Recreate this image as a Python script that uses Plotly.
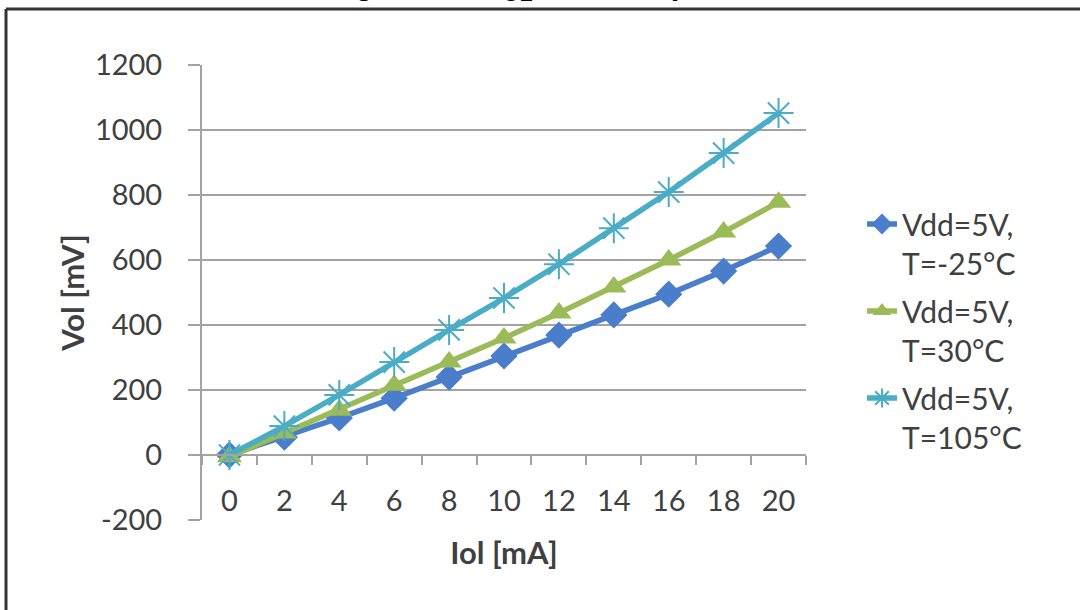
import plotly.graph_objects as go

iol = ["0", "2", "4", "6", "8", "10", "12", "14", "16", "18", "20"]
vol_m25 = [0, 55, 114, 175, 240, 305, 369, 431, 495, 566, 643]
vol_30 = [-5, 68, 138, 215, 286, 360, 437, 517, 600, 686, 778]
vol_105 = [0, 89, 185, 286, 385, 483, 587, 698, 809, 929, 1052]
names = ["Vdd=5V,<br>T=-25°C", "Vdd=5V,<br>T=30°C", "Vdd=5V,<br>T=105°C"]
yticks = [-200, 0, 200, 400, 600, 800, 1000, 1200]
yticklabels = ["-200", "0", "200", "400", "600", "800", "1000", "1200"]

FONT = "Lato"
TXT = "#404040"
GRID = "#a3a3a3"

W, H = 1080, 610
ML, MR, MT, MB = 202, 274, 65, 90
PW, PH = W - ML - MR, H - MT - MB


def px_x(p):
    return (p - ML) / PW


def px_y(p):
    return (H - MB - p) / PH


fig = go.Figure()
fig.add_trace(go.Scatter(x=iol, y=vol_m25, name=names[0], mode="lines+markers",
                         legendgroup="a",
                         line=dict(color="#4a7ecb", width=5.5),
                         marker=dict(symbol="diamond", size=21, color="#4a7ecb")))
fig.add_trace(go.Scatter(x=iol, y=vol_30, name=names[1], mode="lines+markers",
                         legendgroup="b",
                         line=dict(color="#9bbb59", width=5.5),
                         marker=dict(symbol="triangle-up", size=22, color="#9bbb59")))
fig.add_trace(go.Scatter(x=iol, y=vol_105, name=names[2], mode="lines+markers",
                         legendgroup="c",
                         line=dict(color="#4bacc6", width=5.5),
                         marker=dict(symbol="asterisk-open", size=25, color="#4bacc6",
                                     line=dict(color="#4bacc6", width=2))))

fig.update_layout(
    width=W, height=H,
    margin=dict(l=ML, r=MR, t=MT, b=MB, autoexpand=False),
    paper_bgcolor="white", plot_bgcolor="white",
    font=dict(family=FONT, size=29, color=TXT),
    showlegend=True,
    legend=dict(x=px_x(862), y=px_y(198), xanchor="left", yanchor="top",
                font=dict(family=FONT, size=30, color=TXT),
                valign="top", tracegroupgap=6, bgcolor="rgba(0,0,0,0)"),
    xaxis=dict(type="category", range=[-0.5, 10.5], tickson="boundaries",
               ticks="outside", ticklen=9,
               tickwidth=2, tickcolor=GRID, showgrid=False,
               showline=True, linecolor=GRID, linewidth=2,
               anchor="free", position=200 / 1400,
               ticklabelstandoff=20,
               tickfont=dict(family=FONT, size=29, color=TXT),
               title=dict(text="<b>Iol [mA]</b>", standoff=26,
                          font=dict(family=FONT, size=31, color=TXT)),
               zeroline=False, fixedrange=True),
    yaxis=dict(range=[-200, 1200], tickvals=yticks, ticktext=yticklabels,
               showgrid=True, gridcolor=GRID,
               gridwidth=2, ticks="outside", ticklen=12, tickwidth=2, tickcolor=GRID,
               showline=True, linecolor=GRID, linewidth=2,
               ticklabelstandoff=20,
               tickfont=dict(family=FONT, size=29, color=TXT),
               title=dict(text="<b>Vol [mV]</b>", standoff=1,
                          font=dict(family=FONT, size=31, color=TXT)),
               zeroline=False, fixedrange=True),
)

# frame border of the original figure box
fig.add_shape(type="line", xref="paper", yref="paper",
              x0=px_x(6), x1=px_x(1085), y0=px_y(9), y1=px_y(9),
              line=dict(color="#333333", width=3))
fig.add_shape(type="line", xref="paper", yref="paper",
              x0=px_x(6), x1=px_x(6), y0=px_y(615), y1=px_y(9),
              line=dict(color="#333333", width=3))

# cut-off caption above the frame
fig.add_annotation(xref="paper", yref="paper", x=px_x(325), y=px_y(8),
                   xanchor="left", yanchor="bottom", showarrow=False,
                   text="<b>Figure 12. V<sub>OL</sub> over temperature</b>",
                   font=dict(family="Liberation Sans", size=31, color="black"))

fig.write_html("out.html", config={"displayModeBar": False},
               post_script="document.body.style.margin='0px';")
